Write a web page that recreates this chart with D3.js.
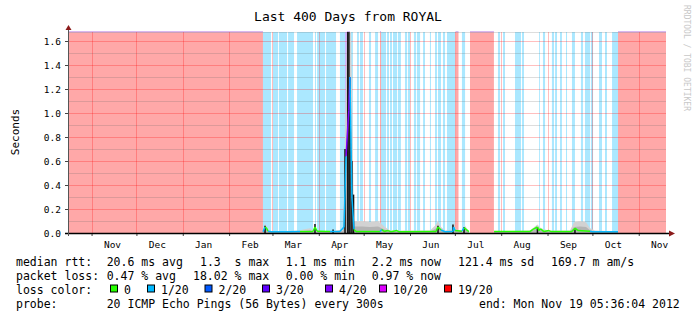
<!DOCTYPE html>
<html>
<head>
<meta charset="utf-8">
<script src="https://cdnjs.cloudflare.com/ajax/libs/d3/7.8.5/d3.min.js"></script>
<style>
body { margin:0; background:#fff; }
text { font-family: "DejaVu Sans Mono", monospace; fill:#000; white-space: pre; }
</style>
</head>
<body>
<div id="chart-area"></div>
<script>
//Data: positions in days since the start of the 400 day window
var startDate = new Date(2011, 9, 16, 5, 36, 4);
var endDate = new Date(2012, 10, 19, 5, 36, 4);
var yTicks = [0, 0.2, 0.4, 0.6, 0.8, 1.0, 1.2, 1.4, 1.6];
var lossLabels = ["0", "1/20", "2/20", "3/20", "4/20", "10/20", "19/20"];
var lossColors = ["#26ff00", "#00b8ff", "#0059ff", "#5e00ff", "#7e00ff", "#dd00ff", "#ff0000"];

//loss backgrounds [from, to]
var pinkBands = [[0,130.4],[186.6,188.6],[208.7,209.4],[259.2,261.2],[268.9,284.9],[367.9,400]];
var purpleBands = [[185.3,186.6]];
var blueBands = [[130.4,135.8],[137.1,140.5],[141.1,146.5],[147.2,151.2],[153.2,163.9],[165.2,165.9],
    [166.6,171.9],[172.6,179.3],[181.9,185.3],[188.6,190.6],[193.3,194.6],[195.3,197.3],[201.3,202.7],
    [205.4,207.4],[209.4,212.7],[213.4,214.7],[215.4,216.7],[217.4,220.1],[220.7,222.7],[225.4,226.8],
    [227.4,228.8],[231.4,232.8],[233.4,235.5],[237.5,238.8],[242.1,242.8],[245.5,246.8],[247.5,249.5],
    [250.8,252.2],[253.5,258.9],[263.5,265.6],[287.6,289.0],[291.0,292.3],[299.0,303.0],[303.7,305.0],
    [315.1,315.7],[317.7,319.1],[323.7,325.1],[325.8,327.1],[329.1,330.4],[333.1,333.8],[337.1,339.1],
    [343.1,344.5],[345.8,349.2],[349.8,351.2],[355.2,357.2],[359.2,360.5],[363.9,367.9]];

//smoke top [day, seconds], null = no data
var smoke = [[130.4,0.01],[131.8,0.08],[133.8,0.03],[135.8,0.015],[155.2,0.02],[157.2,0.03],[161.9,0.04],
    [163.9,0.02],[175.3,0.015],[184.0,0.03],[185.3,0.8],[186.6,1.675],[189.3,1.675],[190.6,0.6],[191.3,0.1],
    [192.6,0.1],[196.7,0.1],[202.0,0.09],[207.4,0.1],[212.0,0.05],[215.4,0.02],[242.1,0.02],[245.5,0.06],
    [247.5,0.1],[249.5,0.05],[252.2,0.02],[256.9,0.03],[258.2,0.09],[259.5,0.03],[264.2,0.02],[265.6,0.06],
    [267.6,0.02],[268.2,0.01],null,[285.0,0.015],[309.0,0.02],[314.0,0.07],[316.4,0.04],[321.1,0.02],
    [335.8,0.02],[338.5,0.09],[342.5,0.1],[346.5,0.09],[349.2,0.04],[352.5,0.02],[367.9,0.015]];
var smokeCore = [[186.6,1.675],[188.6,1.675]];

//median rtt [day, seconds, loss level]
var median = [[130.4,0.01,1],[131.8,0.05,1],[132.8,0.04,0],[133.8,0.015,0],[135.8,0.01,1],[148.5,0.01,1],
    [155.2,0.012,1],[163.9,0.012,0],[165.2,0.05,0],[166.6,0.015,0],[175.3,0.012,0],[181.9,0.012,1],
    [184.6,0.05,1],[186.0,0.64,1],[187.8,1.02,4],[188.6,1.30,4],[189.9,0.3,1],[191.3,0.03,1],[192.6,0.012,0],
    [208.7,0.012,0],[210.0,0.03,1],[211.4,0.012,0],[214.0,0.02,0],[216.1,0.01,0],[220.1,0.02,0],[221.4,0.01,0],
    [246.2,0.012,0],[247.5,0.05,0],[249.5,0.025,0],[252.2,0.01,1],[257.5,0.012,1],[257.9,0.05,1],
    [258.9,0.02,1],[263.5,0.015,0],[264.9,0.045,1],[266.2,0.03,0],[268.2,0.012,0],null,[285.0,0.012,0],
    [309.0,0.012,0],[311.0,0.03,0],[314.0,0.05,0],[315.0,0.02,0],[316.0,0.035,0],[318.4,0.012,0],
    [321.7,0.02,0],[323.1,0.012,0],[337.1,0.012,0],[339.1,0.04,0],[341.1,0.02,0],[349.2,0.015,0],
    [350.5,0.01,1],[367.9,0.01,1]];

//dark single pings [day, seconds]
var peaks = [[131.8,0.06],[165.2,0.075],[177.3,0.03],[185.3,0.7],[187.2,1.675],[188.6,1.3],[189.9,0.6],
    [191.0,0.32],[247.5,0.06],[257.5,0.07],[264.9,0.05],[314.0,0.05],[339.1,0.03]];

//legend texts
var rttStats = ["20.6 ms avg", "1.3  s max", "1.1 ms min", "2.2 ms now", "121.4 ms sd", "169.7 m am/s"];
var lossStats = ["0.47 % avg", "18.02 % max", "0.00 % min", "0.97 % now"];
var probeText = "20 ICMP Echo Pings (56 Bytes) every 300s";
var endText = "end: Mon Nov 19 05:36:04 2012";

//Margin
var W = 697, H = 321;
var plot = { left:68, right:666, top:32, bottom:233 };

var svg = d3.select("#chart-area").append("svg")
    .attr("width", W)
    .attr("height", H)
    .style("display", "block");
svg.append("rect").attr("width", W).attr("height", H).attr("fill", "#fff");

//Scales
var x = d3.scaleTime()
    .domain([startDate, endDate])
    .range([plot.left, plot.right]);
var y = d3.scaleLinear()
    .domain([0, (plot.bottom - plot.top) / 120])
    .range([plot.bottom, plot.top]);

function day(d) { return new Date(startDate.getTime() + d * 864e5); }

//loss backgrounds
function bands(list, color, op) {
    svg.append("g").selectAll("rect").data(list).enter().append("rect")
        .attr("x", d => x(day(d[0])))
        .attr("width", d => x(day(d[1])) - x(day(d[0])))
        .attr("y", plot.top)
        .attr("height", plot.bottom - plot.top)
        .attr("fill", color)
        .attr("fill-opacity", op);
}
bands(blueBands, lossColors[1], 0.33);
bands(purpleBands, lossColors[3], 0.3);
bands(pinkBands, lossColors[6], 0.34);
//thin lavender strip on top of the pink areas
svg.append("g").selectAll("rect").data(pinkBands).enter().append("rect")
    .attr("x", d => x(day(d[0])))
    .attr("width", d => x(day(d[1])) - x(day(d[0])))
    .attr("y", plot.top - 1)
    .attr("height", 1.5)
    .attr("fill", "#d8b8f0");

//Grid
var grid = svg.append("g");
d3.range(1, 17).forEach(function(i) {
    var v = i / 10;
    if (i % 2 == 0) return;
    grid.append("line")
        .attr("x1", plot.left).attr("x2", plot.right)
        .attr("y1", Math.round(y(v)) + 0.5).attr("y2", Math.round(y(v)) + 0.5)
        .attr("stroke", "rgba(100,100,100,0.22)");
});
grid.append("line")
    .attr("x1", plot.left).attr("x2", plot.right)
    .attr("y1", plot.top + 0.5).attr("y2", plot.top + 0.5)
    .attr("stroke", "rgba(100,100,100,0.22)");
yTicks.slice(1).forEach(function(v) {
    grid.append("line")
        .attr("x1", plot.left).attr("x2", plot.right)
        .attr("y1", Math.round(y(v)) + 0.5).attr("y2", Math.round(y(v)) + 0.5)
        .attr("stroke", "rgba(255,0,0,0.25)");
});
var months = d3.timeMonth.range(startDate, endDate);
months.forEach(function(m) {
    grid.append("line")
        .attr("x1", Math.round(x(m)) + 0.5).attr("x2", Math.round(x(m)) + 0.5)
        .attr("y1", plot.top).attr("y2", plot.bottom)
        .attr("stroke", "rgba(255,0,0,0.25)");
});

//smoke
var area = d3.area()
    .defined(d => d != null)
    .x(d => x(day(d[0])))
    .y0(plot.bottom)
    .y1(d => y(d[1]));
svg.append("path").attr("d", area(smoke)).attr("fill", "#d2d2d2");
var area2 = d3.area()
    .defined(d => d != null)
    .x(d => x(day(d[0])))
    .y0(plot.bottom)
    .y1(d => y(d[1] * 0.55));
svg.append("path").attr("d", area2(smoke)).attr("fill", "#b4b4b4");
svg.append("path").attr("d", area(smokeCore)).attr("fill", "#505050");

//dark pings
svg.append("g").selectAll("line").data(peaks).enter().append("line")
    .attr("x1", d => x(day(d[0]))).attr("x2", d => x(day(d[0])))
    .attr("y1", plot.bottom).attr("y2", d => y(d[1]))
    .attr("stroke", "#111")
    .attr("stroke-width", 1.5);

//median line, each piece in its loss colour
var med = svg.append("g");
for (var i = 0; i < median.length - 1; i++) {
    var a = median[i], b = median[i + 1];
    if (!a || !b) continue;
    med.append("line")
        .attr("x1", x(day(a[0]))).attr("y1", y(a[1]))
        .attr("x2", x(day(b[0]))).attr("y2", y(b[1]))
        .attr("stroke", lossColors[b[2]])
        .attr("stroke-width", 1.5);
}

//Axis
var yAxisCall = d3.axisLeft(y)
    .tickValues(yTicks)
    .tickSize(3)
    .tickPadding(4)
    .tickFormat(d3.format(".1f"));
var yAxis = svg.append("g")
    .attr("transform", "translate(" + plot.left + ",0)")
    .call(yAxisCall);
yAxis.select(".domain").remove();
yAxis.selectAll("line").attr("stroke", "#444");
yAxis.selectAll("text")
    .attr("font-family", "DejaVu Sans Mono")
    .attr("font-size", "9.5px")
    .attr("fill", "#000");

var xAxisCall = d3.axisBottom(x)
    .tickValues(months)
    .tickSize(3)
    .tickFormat("");
var xAxis = svg.append("g")
    .attr("transform", "translate(0," + plot.bottom + ")")
    .call(xAxisCall);
xAxis.select(".domain").remove();
xAxis.selectAll("line").attr("stroke", "#444");

//month labels centred on the 15th
var formatMonth = d3.timeFormat("%b");
var mids = d3.timeMonth.range(d3.timeMonth.floor(startDate), endDate)
    .map(m => new Date(m.getFullYear(), m.getMonth(), 15))
    .filter(m => m >= startDate && m <= endDate);
svg.append("g").selectAll("text").data(mids).enter().append("text")
    .attr("x", d => x(d))
    .attr("y", 248)
    .attr("text-anchor", "middle")
    .attr("font-size", "9.5px")
    .text(d => formatMonth(d));

//axis lines with arrows
svg.append("line")
    .attr("x1", plot.left - 3).attr("x2", plot.right + 4)
    .attr("y1", plot.bottom + 0.5).attr("y2", plot.bottom + 0.5)
    .attr("stroke", "#000").attr("stroke-width", 1.5);
svg.append("line")
    .attr("x1", plot.left + 0.5).attr("x2", plot.left + 0.5)
    .attr("y1", plot.top - 4).attr("y2", plot.bottom + 3)
    .attr("stroke", "#555").attr("stroke-width", 1);
svg.append("path")
    .attr("d", "M" + (plot.right + 3) + "," + (plot.bottom - 2.5) + "L" + (plot.right + 9) + "," + (plot.bottom + 0.5) + "L" + (plot.right + 3) + "," + (plot.bottom + 3.5) + "Z")
    .attr("fill", "#8b1a1a");
svg.append("path")
    .attr("d", "M" + (plot.left - 2.5) + "," + (plot.top - 2) + "L" + (plot.left + 0.5) + "," + (plot.top - 7) + "L" + (plot.left + 3.5) + "," + (plot.top - 2) + "Z")
    .attr("fill", "#8b1a1a");

//titles
svg.append("text")
    .attr("x", 348).attr("y", 21)
    .attr("text-anchor", "middle")
    .attr("font-size", "13px")
    .text("Last 400 Days from ROYAL");
svg.append("text")
    .attr("transform", "translate(19,132) rotate(-90)")
    .attr("text-anchor", "middle")
    .attr("font-size", "11px")
    .text("Seconds");
svg.append("text")
    .attr("transform", "translate(684,5) rotate(90)")
    .attr("font-size", "8px")
    .style("fill", "#c8c8c8")
    .text("RRDTOOL / TOBI OETIKER");

//legend
var lg = svg.append("g").attr("font-size", "11.5px");
var rows = [265.5, 279.5, 293.5, 307.5];
lg.append("text").attr("x", 16).attr("y", rows[0]).text("median rtt:");
var rttX = [106.7, 200, 285.7, 371.7, 458, 551];
rttStats.forEach((t, i) => lg.append("text").attr("x", rttX[i]).attr("y", rows[0]).text(t));
lg.append("text").attr("x", 16).attr("y", rows[1]).text("packet loss:");
var lossX = [106.7, 193, 285.7, 371.7];
lossStats.forEach((t, i) => lg.append("text").attr("x", lossX[i]).attr("y", rows[1]).text(t));
lg.append("text").attr("x", 16).attr("y", rows[2]).text("loss color:");
var boxX = [110, 147, 204.5, 262, 325, 379, 444];
lossLabels.forEach(function(t, i) {
    lg.append("rect")
        .attr("x", boxX[i] + 0.5).attr("y", rows[2] - 8.5)
        .attr("width", 7).attr("height", 7)
        .attr("fill", lossColors[i])
        .attr("stroke", "#000");
    lg.append("text").attr("x", boxX[i] + 14).attr("y", rows[2]).text(t);
});
lg.append("text").attr("x", 16).attr("y", rows[3]).text("probe:");
lg.append("text").attr("x", 106.7).attr("y", rows[3]).text(probeText);
lg.append("text").attr("x", 479).attr("y", rows[3]).text(endText);
</script>
</body>
</html>
